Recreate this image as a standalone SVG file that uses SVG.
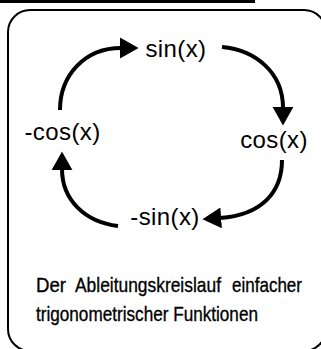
<svg xmlns="http://www.w3.org/2000/svg" width="321" height="349" viewBox="0 0 321 349">
<style>
.lbl{font-family:"Liberation Sans",Arial,sans-serif;font-size:24px;letter-spacing:0.4px;fill:#000;text-anchor:middle}
.cap{font-family:"Liberation Sans",Arial,sans-serif;font-size:21px;fill:#000;stroke:#000;stroke-width:0.35}
.arr{fill:none;stroke:#000;stroke-width:4;marker-end:url(#head)}
</style>
<defs>
<marker id="head" markerUnits="userSpaceOnUse" markerWidth="20" markerHeight="22" viewBox="0 -10 18 20" refX="1" refY="0" orient="auto">
<path d="M0,-9.5 L17,0 L0,9.5 z" fill="#000"/>
</marker>
</defs>
<rect x="0" y="0" width="255" height="3" fill="#000"/>
<rect x="8" y="10" width="318" height="341" rx="22" ry="22" fill="#fff" stroke="#000" stroke-width="2"/>
<g id="connectors">
<path class="arr" d="M60,110 C60,75 85,48 121,48"/>
<path class="arr" d="M222,47 C255,50 283,72 283,108"/>
<path class="arr" d="M282,160 C282,192 262,215 220,218"/>
<path class="arr" d="M118,226 C85,222 62,200 62,169"/>
</g>
<g id="sin"><text class="lbl" x="176" y="57">sin(x)</text></g>
<g id="cos"><text class="lbl" x="274" y="148">cos(x)</text></g>
<g id="negsin"><text class="lbl" x="165" y="225">-sin(x)</text></g>
<g id="negcos"><text class="lbl" x="62.5" y="140">-cos(x)</text></g>
<g id="caption" transform="scale(0.82,1)">
<text class="cap" x="43.9" y="292" textLength="36.6" lengthAdjust="spacingAndGlyphs">Der</text>
<text class="cap" x="91.5" y="292" textLength="178" lengthAdjust="spacingAndGlyphs">Ableitungskreislauf</text>
<text class="cap" x="282.9" y="292" textLength="85.4" lengthAdjust="spacingAndGlyphs">einfacher</text>
<text class="cap" x="43.9" y="321" textLength="270.7" lengthAdjust="spacingAndGlyphs">trigonometrischer Funktionen</text>
</g>
</svg>
